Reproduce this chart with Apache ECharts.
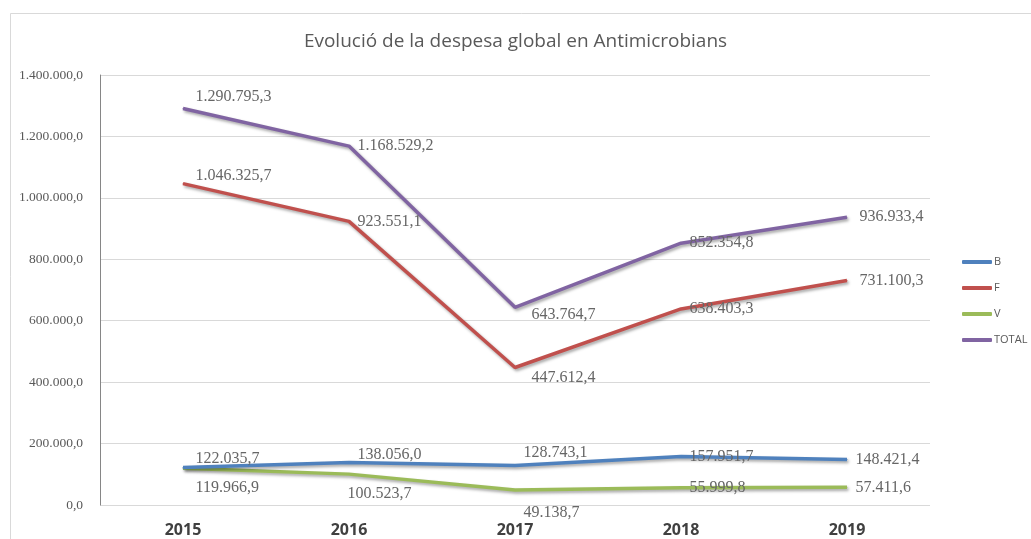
<!DOCTYPE html>
<html>
<head>
<meta charset="utf-8">
<script src="https://cdn.jsdelivr.net/npm/echarts@6/dist/echarts.min.js"></script>
<style>html,body{margin:0;padding:0;background:#fff}#c{width:1031px;height:539px}</style>
</head>
<body>
<div id="c"></div>
<script>
var years = ['2015', '2016', '2017', '2018', '2019'];
var seriesNames = ['B', 'F', 'V', 'TOTAL'];
var valuesB = [122035.7, 138056.0, 128743.1, 157951.7, 148421.4];
var valuesF = [1046325.7, 923551.1, 447612.4, 638403.3, 731100.3];
var valuesV = [119966.9, 100523.7, 49138.7, 55999.8, 57411.6];
var valuesTotal = [1290795.3, 1168529.2, 643764.7, 852354.8, 936933.4];
var yTicks = [0, 200000, 400000, 600000, 800000, 1000000, 1200000, 1400000];

function fmt(v) {
  var s = v.toFixed(1);
  var parts = s.split('.');
  var int = parts[0].replace(/\B(?=(\d{3})+(?!\d))/g, '.');
  return int + ',' + parts[1];
}

// label offsets (layout only)
var labelOffsets = {
  'B': [[4, -9], [0, -8], [0, -13], [0, 0], [0, 0]],
  'F': [[4, -8], [0, 0], [8, 10], [0, 0], [4, 0]],
  'V': [[4, 20], [-10, 20], [0, 23], [0, 0], [0, 0]],
  'TOTAL': [[4, -12], [0, 0], [8, 8], [0, 0], [4, 0]]
};
var colors = {'B': '#4F81BD', 'F': '#C0504D', 'V': '#9BBB59', 'TOTAL': '#8064A2'};
var dataMap = {'B': valuesB, 'F': valuesF, 'V': valuesV, 'TOTAL': valuesTotal};

var series = seriesNames.map(function (n) {
  return {
    name: n,
    type: 'line',
    symbol: 'circle',
    symbolSize: 1,
    itemStyle: {color: colors[n]},
    lineStyle: {
      width: 3.5, color: colors[n],
      shadowColor: 'rgba(0,0,0,0.35)', shadowBlur: 3, shadowOffsetX: 1.5, shadowOffsetY: 2
    },
    emphasis: {disabled: true},
    z: n === 'B' ? 3 : 2,
    data: dataMap[n].map(function (v, i) {
      return {value: v, label: {offset: labelOffsets[n][i]}};
    }),
    label: {
      show: true,
      position: 'right',
      distance: 8,
      fontFamily: 'Liberation Serif',
      fontSize: 16,
      color: '#666666',
      formatter: function (p) { return fmt(p.value); }
    }
  };
});

var chart = echarts.init(document.getElementById('c'), null, {renderer: 'canvas'});
chart.setOption({
  animation: false,
  backgroundColor: '#fff',
  graphic: [{
    type: 'rect', left: 8, top: 11,
    shape: {width: 1100, height: 600},
    style: {fill: 'none', stroke: '#d9d9d9', lineWidth: 1},
    silent: true, z: -1
  }],
  title: {
    text: 'Evolució de la despesa global en Antimicrobians',
    left: 'center', top: 27,
    textStyle: {fontFamily: 'Open Sans', fontSize: 19, fontWeight: 'normal', color: '#595959'}
  },
  legend: {
    orient: 'vertical',
    left: 957, top: 250,
    itemWidth: 30, itemHeight: 4, itemGap: 12,
    icon: 'roundRect',
    data: seriesNames,
    textStyle: {fontFamily: 'Open Sans', fontSize: 11, color: '#595959', lineHeight: 14, padding: [0, 0, 0, -3]}
  },
  grid: {left: 100, right: 101, top: 75, bottom: 34},
  xAxis: {
    type: 'category',
    data: years,
    boundaryGap: true,
    axisLine: {show: false},
    axisTick: {show: false},
    axisLabel: {
      margin: 17,
      fontFamily: 'Open Sans', fontSize: 16, fontWeight: 'bold', color: '#404040'
    }
  },
  yAxis: {
    type: 'value',
    min: 0, max: 1400000, interval: 200000,
    axisLine: {show: true, lineStyle: {color: '#868686', width: 1}},
    axisTick: {show: false},
    splitLine: {lineStyle: {color: '#d9d9d9', width: 1}},
    axisLabel: {
      margin: 17,
      fontFamily: 'Liberation Serif', fontSize: 13.5, color: '#595959',
      formatter: function (v) { return yTicks.indexOf(v) >= 0 ? fmt(v) : ''; }
    }
  },
  series: series
});
</script>
</body>
</html>
